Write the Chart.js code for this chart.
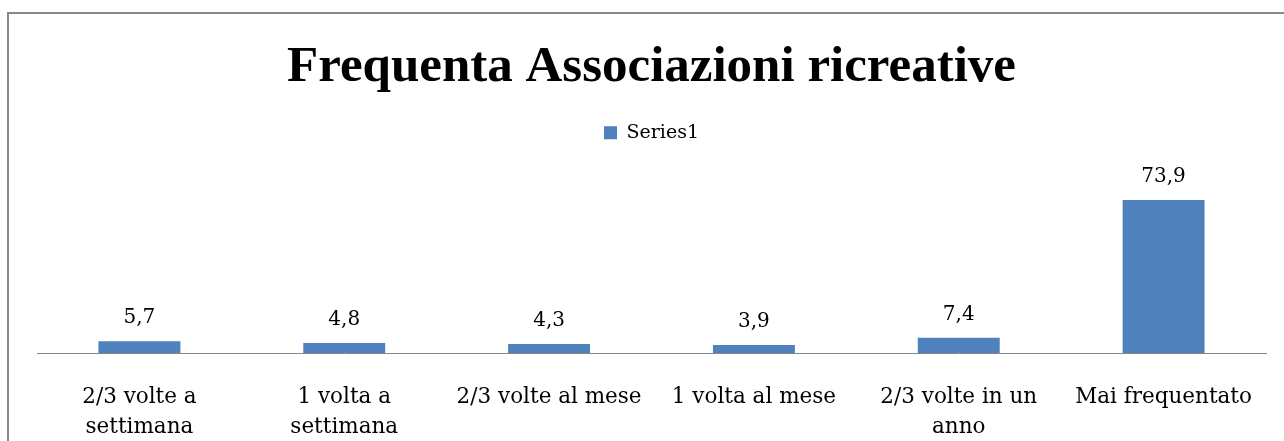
<!DOCTYPE html>
<html>
<head>
<meta charset="utf-8">
<script src="https://cdn.jsdelivr.net/npm/chart.js@4"></script>
<style>
  html, body { margin: 0; padding: 0; background: #fff; overflow: hidden; }
  #frame {
    position: absolute; left: 7px; top: 12px; width: 1400px; height: 500px;
    border-left: 2px solid #888; border-top: 2px solid #8a8a8a;
  }
  #wrap { position: absolute; left: 0; top: 0; width: 1284px; height: 441px; }
</style>
</head>
<body>
<div id="frame"></div>
<div id="wrap"><canvas id="myChart"></canvas></div>
<script>
"use strict";

// categories (multi-line labels) and values
const categories = [
  ['2/3 volte a', 'settimana'],
  ['1 volta a', 'settimana'],
  '2/3 volte al mese',
  '1 volta al mese',
  ['2/3 volte in un', 'anno'],
  'Mai frequentato'
]
const values = [5.7, 4.8, 4.3, 3.9, 7.4, 73.9]
const seriesName = 'Series1'
const yMax = 80

// value labels above the bars, with comma decimals
const valueLabels = {
  id: 'valueLabels',
  afterDatasetsDraw(chart) {
    const ctx = chart.ctx
    const meta = chart.getDatasetMeta(0)
    ctx.save()
    ctx.font = '20px "DejaVu Serif"'
    ctx.fillStyle = '#000'
    ctx.textAlign = 'center'
    ctx.textBaseline = 'alphabetic'
    meta.data.forEach((bar, i) => {
      const txt = values[i].toFixed(1).replace('.', ',')
      ctx.fillText(txt, bar.x, bar.y - 18)
    })
    ctx.restore()
  }
}

// leave some room between the legend and the plot
const legendGap = {
  id: 'legendGap',
  afterInit(chart) {
    const fit = chart.legend.fit
    chart.legend.fit = function () {
      fit.call(this)
      this.height += 35
    }
  }
}

const config = {
  type: 'bar',
  data: {
    labels: categories,
    datasets: [{
      label: seriesName,
      data: values,
      backgroundColor: '#4f81bd',
      borderWidth: 0,
      categoryPercentage: 0.8,
      barPercentage: 0.5
    }]
  },
  options: {
    responsive: true,
    maintainAspectRatio: false,
    animation: false,
    layout: { padding: { left: 37, right: 18, top: 0, bottom: 0 } },
    scales: {
      x: {
        grid: { display: false, drawTicks: false },
        border: { display: true, color: '#868686', width: 1 },
        ticks: {
          color: '#000',
          padding: 29,
          maxRotation: 0,
          autoSkip: false,
          font: { family: 'DejaVu Serif', size: 21.5, lineHeight: 1.4 }
        },
        afterFit(scale) { scale.height = 88 }
      },
      y: {
        display: false,
        min: 0,
        max: yMax
      }
    },
    plugins: {
      title: {
        display: true,
        text: 'Frequenta Associazioni ricreative',
        color: '#000',
        font: { family: 'Liberation Serif', size: 51, weight: 'bold', lineHeight: 0.8 },
        padding: { top: 47, bottom: 0 }
      },
      legend: {
        display: true,
        labels: {
          color: '#000',
          boxWidth: 13,
          boxHeight: 13,
          padding: 35.5,
          font: { family: 'DejaVu Serif', size: 19 }
        }
      },
      tooltip: { enabled: false }
    }
  },
  plugins: [valueLabels, legendGap]
}

const my_chart = new Chart(document.getElementById('myChart'), config)
</script>
</body>
</html>
